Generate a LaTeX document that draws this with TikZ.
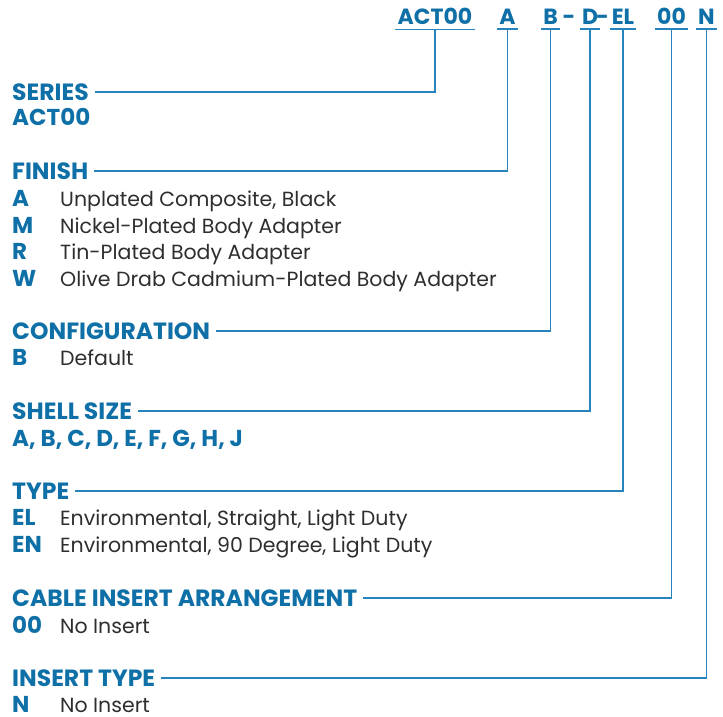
\documentclass[tikz,border=0pt]{standalone}
\usepackage{fontspec}
\setmainfont{Poppins}
\usetikzlibrary{positioning}
\definecolor{Brand}{HTML}{0F70A8}
\definecolor{Lead}{HTML}{2683BD}
\definecolor{BodyText}{HTML}{2E2E2E}

\begin{document}
\begin{tikzpicture}[x=1pt, y=-1pt,
  code/.style={anchor=base, inner xsep=2pt, inner ysep=4pt, text=Brand,
    font=\fontsize{22}{24}\selectfont\bfseries},
  sep/.style={anchor=base, inner sep=0pt, text=Brand,
    font=\fontsize{22}{24}\selectfont\bfseries},
  head/.style={anchor=base west, inner xsep=6pt, inner ysep=0pt, text=Brand,
    font=\fontsize{23.5}{26}\selectfont\bfseries},
  key/.style={anchor=base west, inner sep=0pt, text=Brand,
    font=\fontsize{23}{26}\selectfont\bfseries},
  desc/.style={anchor=base west, inner sep=0pt, text=BodyText,
    font=\fontsize{20.5}{24}\selectfont},
  lead/.style={draw=Lead, line width=1.6pt}
]
  \useasboundingbox (0,0) rectangle (723,717);

  % part number
  \node[code] (cSeries) at (435,25) {ACT00};
  \node[code] (cFinish) at (507.5,25) {A};
  \node[code] (cConfig) at (550.5,25) {B};
  \node[sep] (dashA) at (569,25) {-};
  \node[code] (cShell) at (590,25) {D};
  \node[sep] (dashB) at (602.5,25) {-};
  \node[code] (cType) at (623,25) {EL};
  \node[code] (cCable) at (671.5,25) {00};
  \node[code] (cInsert) at (706.5,25) {N};
  \foreach \c in {cSeries,cFinish,cConfig,cShell,cType,cCable,cInsert}
    \draw[lead] (\c.south west) -- (\c.south east);

  % series
  \node[head] (hSeries) at (6,100) {SERIES};
  \node[key] (kSeries) at (12,125) {ACT00};

  % finish
  \node[head] (hFinish) at (6,179) {FINISH};
  \node[key] (kFinA) at (12,206) {A};
  \node[desc] (dFinA) at (60,206) {Unplated Composite, Black};
  \node[key] (kFinM) at (12,233) {M};
  \node[desc] (dFinM) at (60,233) {Nickel-Plated Body Adapter};
  \node[key] (kFinR) at (12,259) {R};
  \node[desc] (dFinR) at (60,259) {Tin-Plated Body Adapter};
  \node[key] (kFinW) at (12,286) {W};
  \node[desc] (dFinW) at (60,286) {Olive Drab Cadmium-Plated Body Adapter};

  % configuration
  \node[head] (hConfig) at (6,339) {CONFIGURATION};
  \node[key] (kConfB) at (12,365) {B};
  \node[desc] (dConfB) at (60,365) {Default};

  % shell size
  \node[head] (hShell) at (6,419) {SHELL SIZE};
  \node[key] (kShell) at (12,446) {A, B, C, D, E, F, G, H, J};

  % type
  \node[head] (hType) at (6,499) {TYPE};
  \node[key] (kTypeEL) at (12,525) {EL};
  \node[desc] (dTypeEL) at (60,525) {Environmental, Straight, Light Duty};
  \node[key] (kTypeEN) at (12,552) {EN};
  \node[desc] (dTypeEN) at (60,552) {Environmental, 90 Degree, Light Duty};

  % cable insert arrangement
  \node[head] (hCable) at (6,606) {CABLE INSERT ARRANGEMENT};
  \node[key] (kCable) at (12,633) {00};
  \node[desc] (dCable) at (60,633) {No Insert};

  % insert type
  \node[head] (hInsert) at (6,686) {INSERT TYPE};
  \node[key] (kInsert) at (12,712) {N};
  \node[desc] (dInsert) at (60,712) {No Insert};

  \draw[lead] (hSeries.east) -| (cSeries.south);
  \draw[lead] (hFinish.east) -| (cFinish.south);
  \draw[lead] (hConfig.east) -| (cConfig.south);
  \draw[lead] (hShell.east) -| (cShell.south);
  \draw[lead] (hType.east) -| (cType.south);
  \draw[lead] (hCable.east) -| (cCable.south);
  \draw[lead] (hInsert.east) -| (cInsert.south);
\end{tikzpicture}
\end{document}
